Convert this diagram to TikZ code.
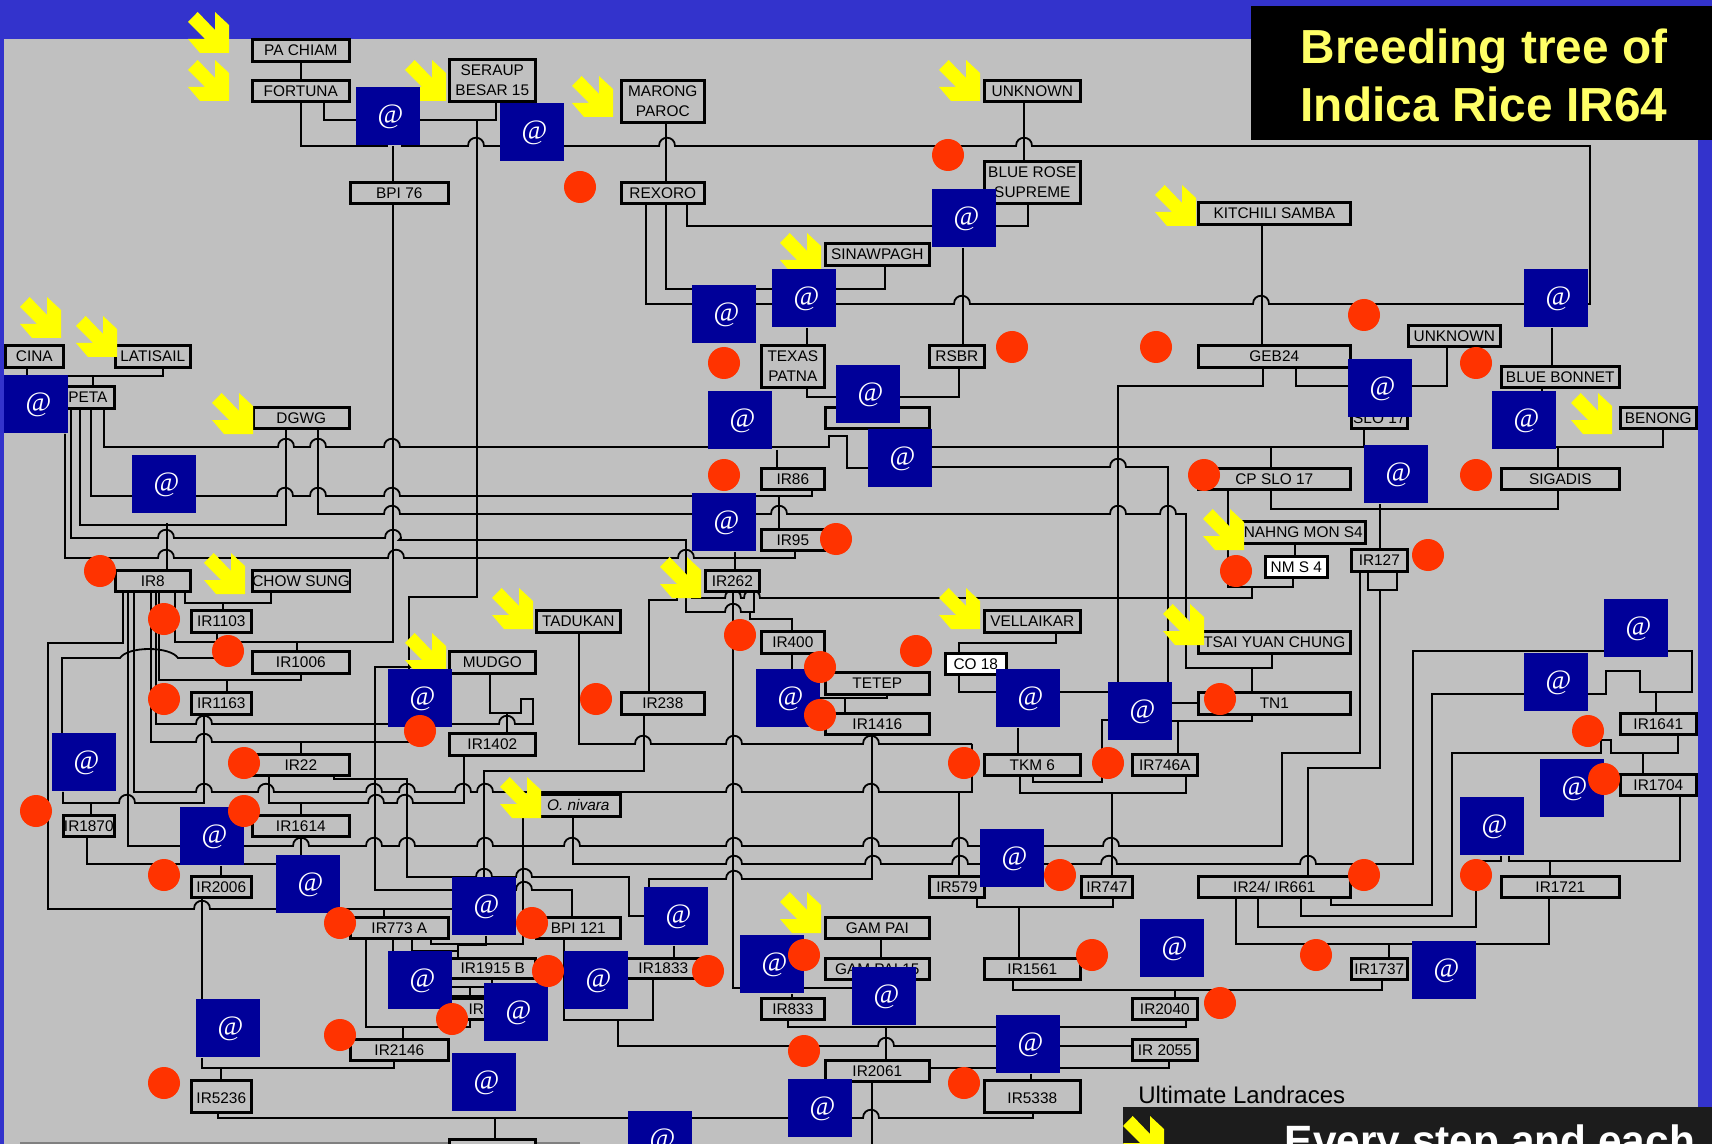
\documentclass[tikz,border=0pt]{standalone}
\usepackage{fontspec}
\usepackage{xcolor}
\setmainfont{Liberation Sans}
\newfontfamily\atfont{Liberation Serif}
\usetikzlibrary{backgrounds}
\definecolor{Slide}{HTML}{3333CC}
\definecolor{Panel}{HTML}{C0C0C0}
\definecolor{Navy}{HTML}{000099}
\definecolor{Signal}{HTML}{FF3300}
\definecolor{Sun}{HTML}{FFFF00}
\definecolor{TitleSun}{HTML}{FFFF66}
\definecolor{Footbar}{HTML}{1C1C1C}
\tikzset{cultivar/.style={rectangle,draw=black,line width=1.3pt,fill=Panel,anchor=north west,align=center,inner sep=0pt,text=black,font=\fontsize{7.7}{10}\selectfont},crossbox/.style={rectangle,fill=Navy,anchor=north west,minimum width=32pt,minimum height=29pt,inner sep=0pt,text=white,font=\atfont\fontsize{14}{14}\selectfont},reddot/.style={circle,fill=Signal,minimum size=16pt,inner sep=0pt},link/.style={draw=black,line width=0.9pt,line join=miter},landrace/.pic={\fill[Sun] (0,10)--(9.7,0)--(27,18)--(27,0)--(41,13)--(41,41)--(12,41)--(0,27)--(17,27)--cycle;}}
\newcommand{\hop}[2]{-- (#1-8,#2) .. controls (#1-8,#2-11) and (#1+8,#2-11) .. (#1+8,#2)}
\newcommand{\atmark}{\kern2pt\raisebox{-1pt}{@}}
\begin{document}
\begin{tikzpicture}[x=0.5pt,y=-0.5pt]
\useasboundingbox (0,0) rectangle (1712,1144);
\clip (0,0) rectangle (1712,1144);
\foreach \nm/\l/\t/\w/\h/\txt in {pachiam/251/39/99/22/PA CHIAM,fortuna/251/80/99/21/FORTUNA,seraup/448/59/88/42/SERAUP\\BESAR 15,marong/620/80/85/42/MARONG\\PAROC,bpi76/349/182/100/21/BPI 76,rexoro/620/182/85/21/REXORO,sinawpagh/824/243/106/22/SINAWPAGH,cina/4/345/60/22/CINA,latisail/114/345/77/22/LATISAIL,peta/60/386/55/22/PETA,dgwg/252/407/98/21/DGWG,texas/760/345/65/42/TEXAS\\PATNA,ir86/760/468/65/21/IR86,ir95/760/529/65/21/IR95,blankbox/824/407/106/21/{},ir8/114/570/77/21/IR8,chowsung/251/570/99/21/CHOW SUNG,ir262/704/570/56/21/IR262,unknowna/983/80/98/21/UNKNOWN,bluerose/983/161/98/42/BLUE ROSE\\SUPREME,kitchili/1197/202/154/22/KITCHILI SAMBA,rsbr/928/345/57/22/RSBR,geb24/1197/345/154/22/GEB24,unknownb/1407/325/94/21/UNKNOWN,bluebonnet/1500/366/120/21/BLUE BONNET,benong/1619/407/78/21/BENONG,slo17/1350/407/58/21/SLO 17,cpslo17/1197/468/154/21/CP SLO 17,sigadis/1500/468/120/21/SIGADIS,nahng/1240/521/126/22/NAHNG MON S4,ir127/1350/549/58/22/IR127,ir1103/190/610/62/22/IR1103,ir1006/251/651/99/22/IR1006,mudgo/448/651/88/22/MUDGO,tadukan/535/610/86/22/TADUKAN,ir400/760/631/65/22/IR400,ir1163/190/692/62/22/IR1163,ir238/620/692/85/22/IR238,ir1402/448/733/88/22/IR1402,ir22/251/754/99/21/IR22,onivara/535/794/86/22/\textit{O. nivara},ir1870/62/815/53/21/IR1870,ir1614/251/815/99/21/IR1614,ir2006/190/876/62/21/IR2006,ir773/349/917/100/21/IR773 A,bpi121/535/917/86/21/BPI 121,ir1915/449/958/87/20/IR1915 B,ir1833/622/958/82/20/IR1833,irhidden/449/998/54/21/IR,ir833/760/998/65/21/IR833,ir2146/349/1039/100/21/IR2146,ir5236/190/1080/62/32/\raisebox{-3.5pt}[0pt][0pt]{IR5236},gampai/824/917/106/21/GAM PAI,gampai15/824/958/106/21/GAM PAI 15,ir2061/824/1060/106/21/IR2061,tetep/824/672/106/22/TETEP,ir1416/824/713/106/21/IR1416,vellaikar/983/610/98/22/VELLAIKAR,tsai/1197/631/154/22/TSAI YUAN CHUNG,tn1/1197/692/154/22/TN1,tkm6/983/754/98/21/TKM 6,ir746a/1131/754/67/21/IR746A,ir1641/1619/713/78/21/IR1641,ir1704/1619/774/78/21/IR1704,ir579/928/876/57/21/IR579,ir747/1080/876/53/21/IR747,ir24/1197/876/154/21/{IR24/ IR661},ir1721/1500/876/120/21/IR1721,ir1561/983/958/98/21/IR1561,ir1737/1350/958/58/21/IR1737,ir2040/1131/998/67/21/IR2040,ir2055/1131/1039/67/21/IR 2055,ir5338/983/1080/98/32/\raisebox{-3.5pt}[0pt][0pt]{IR5338},bottombox/448/1139/88/21/{}}
  \node[cultivar,minimum width=(\w-2)*0.5pt,minimum height=\h*0.5pt] (\nm) at (\l,\t-1) {\txt};
\node[cultivar,fill=white,minimum width=31pt,minimum height=10.5pt] (nms4) at (1264,555) {NM S 4};
\node[cultivar,fill=white,minimum width=30.5pt,minimum height=10.5pt] (co18) at (944,652) {CO 18};
\foreach \x/\y in {188/12,188/60,405/60,572/76,780/233,20/297,76/316,212/393,204/553,660/557,939/60,1155/185,1571/393,1203/509,492/588,405/633,500/777,780/892,939/588,1163/604}
  \pic at (\x,\y) {landrace};
\foreach \n/\x/\y in {1/356/87,2/500/103,3/692/285,4/772/269,5/4/375,6/132/455,7/708/391,8/692/493,9/836/365,10/868/429,11/932/189,12/1348/359,13/1524/269,14/1492/391,15/1364/445,16/388/669,17/756/669,18/52/733,19/180/807,20/276/855,21/452/877,22/644/887,23/388/951,24/564/951,25/484/983,26/740/935,27/196/999,28/452/1053,29/628/1111,30/788/1079,31/852/967,32/996/1015,33/996/669,34/1108/682,35/980/829,36/1140/919,37/1412/941,38/1460/797,39/1540/759,40/1524/653,41/1604/599}
  \node[crossbox] (at\n) at (\x,\y) {\atmark};
\foreach \n/\x/\y in {1/580/187,2/724/363,3/724/475,4/836/539,5/100/571,6/948/155,7/1012/347,8/1156/347,9/1364/315,10/1476/363,11/1476/475,12/1204/475,13/1236/571,14/1428/555,15/164/619,16/228/651,17/164/699,18/420/731,19/244/763,20/36/811,21/244/811,22/164/875,23/340/923,24/532/923,25/548/971,26/708/971,27/804/955,28/452/1019,29/340/1035,30/164/1083,31/804/1051,32/740/635,33/820/667,34/820/715,35/596/699,36/916/651,37/964/763,38/1108/763,39/1220/699,40/1588/731,41/1604/779,42/1060/875,43/1364/875,44/1476/875,45/1092/955,46/1316/955,47/1220/1003,48/964/1083}
  \node[reddot] (dot\n) at (\x,\y) {};
\node[fill=black,anchor=north west,inner sep=0pt,minimum width=230.5pt,minimum height=67pt] (titlebar) at (1251,6) {};
\node[text=TitleSun,align=center,inner sep=0pt,font=\bfseries\fontsize{23.9}{29}\selectfont] (title) at (1484,75) {Breeding tree of\\Indica Rice IR64};
\node[anchor=base west,inner sep=0pt,font=\fontsize{12}{14}\selectfont] (landraces) at (1138,1103) {Ultimate Landraces};
\node[fill=Footbar,anchor=north west,minimum width=294.5pt,minimum height=18.5pt,inner sep=0pt] (footbar) at (1123,1107) {};
\pic at (1123,1116) {landrace};
\node[anchor=base,inner sep=0pt,text=white,font=\bfseries\fontsize{21.2}{24}\selectfont] (footnote) at (1490,1155) {Every step and each};
\begin{scope}[on background layer]
\fill[Slide] (0,0) rectangle (1712,1144);
\fill[Panel] (4,39) rectangle (1698,1144);
\coordinate (gapfree) at (401,146);
\coordinate (pagefoot) at (872,1144);
\draw[draw=gray,line width=0.8pt] (20,1143)--(580,1143);
\draw[link] (pachiam)--(fortuna);
\draw[link] (301,0 |- fortuna.south) |- (at1 |- 0,146);
\draw[link] (gapfree) \hop{476}{146} -- (at2 |- 0,146) \hop{667}{146} \hop{1024}{146} -- (1590,146) |- (at13 |- 0,304);
\draw[link] (324,0 |- fortuna.south) |- (at1 |- 0,120);
\draw[link] (at1 |- 0,120) -| (496,0 |- seraup.south);
\draw[link] (477,120)--(477,597)--(409,597)--(409,0 |- at16.north);
\draw[link] (393,0 |- at1.south)--(393,0 |- bpi76.north);
\draw[link] (393,0 |- bpi76.south)--(393,642)--(175,642)--(175,0 |- ir8.south);
\draw[link] (666,0 |- marong.south)--(666,0 |- rexoro.north);
\draw[link] (1024,0 |- unknowna.south)--(1024,0 |- bluerose.north);
\draw[link] (646,0 |- rexoro.south) |- (at3 |- 0,304)--(at4 |- 0,304) \hop{962}{304} \hop{1261}{304} -- (at13 |- 0,304);
\draw[link] (666,0 |- rexoro.south) |- (at3 |- 0,289)--(at4 |- 0,289) -| (885,0 |- sinawpagh.south);
\draw[link] (687,0 |- rexoro.south) |- (at11 |- 0,226) -| (1028,0 |- bluerose.south);
\draw[link] (807,0 |- at4.south)--(807,0 |- texas.north);
\draw[link] (963,0 |- at11.south)--(963,0 |- rsbr.north);
\draw[link] (807,0 |- texas.south) |- (at9 |- 0,397) -| (959,0 |- rsbr.south);
\draw[link] (1262,0 |- kitchili.south)--(1262,0 |- geb24.north);
\draw[link] (1263,0 |- geb24.south) |- (1118,386)--(1118,0 |- at34.north);
\draw[link] (1296,0 |- geb24.south) |- (at12 |- 0,386) -| (1447,0 |- unknownb.south);
\draw[link] (1552,0 |- at13.south)--(1552,0 |- bluebonnet.north);
\draw[link] (1542,0 |- bluebonnet.south)--(1542,0 |- at14.north);
\draw[link] (at10 |- 0,447) -| (1364,0 |- slo17.south);
\draw[link] (1271,447)--(1271,0 |- cpslo17.north);
\draw[link] (at14 |- 0,447) -| (1663,0 |- benong.south);
\draw[link] (1558,447)--(1558,0 |- sigadis.north);
\draw[link] (1271,0 |- cpslo17.south) |- (1558,509)--(1558,0 |- sigadis.south);
\draw[link] (1228,0 |- cpslo17.south)--(1228,587) -| (1293,0 |- nms4.south);
\draw[link] (1295,0 |- nahng.south)--(1295,0 |- nms4.north);
\draw[link] (1380,0 |- at15.south)--(1380,0 |- ir127.north);
\draw[link] (1397,0 |- ir127.south) |- (1368,590)--(1368,0 |- ir127.south);
\draw[link] (1380,590) |- (1308,768)--(1308,0 |- ir24.north);
\draw[link] (128,0 |- ir8.south)--(128,846)--(at19 |- 0,846) \hop{301}{846} \hop{374}{846} \hop{407}{846} \hop{485}{846} \hop{572}{846} \hop{734}{846} \hop{871}{846} \hop{960}{846} -- (at35 |- 0,846) \hop{1111}{846} -- (1282,846)--(1282,753)--(1360,753)--(1360,0 |- ir127.south);
\draw[link] (134,0 |- ir8.south)--(134,792) \hop{204}{792} \hop{266}{792} \hop{374}{792} \hop{407}{792} \hop{463}{792} \hop{485}{792} \hop{734}{792} \hop{871}{792} -- (972,792)--(972,744);
\draw[link] (579,0 |- tadukan.south)--(579,744) \hop{643}{744} \hop{734}{744} \hop{871}{744} -- (972,744);
\draw[link] (959,792)--(959,0 |- ir579.north);
\draw[link] (151,0 |- ir8.south)--(151,742) \hop{204}{742} -- (409,742);
\draw[link] (301,742)--(301,0 |- ir22.north);
\draw[link] (159,0 |- ir8.south) |- (301,680)--(301,0 |- ir1006.south);
\draw[link] (227,680)--(227,0 |- ir1163.north);
\draw[link] (156,0 |- ir8.south)--(156,724) \hop{204}{724} -- (at16 |- 0,724) \hop{507}{724} -- (533,724)--(533,699)--(521,699)--(521,713)--(490,713)--(490,0 |- mudgo.south);
\draw[link] (507,713)--(507,0 |- ir1402.north);
\draw[link] (123,0 |- ir8.south)--(123,643)--(48,643)--(48,909) \hop{202}{909} -- (at21 |- 0,909);
\draw[link] (384,909)--(384,0 |- ir773.north);
\draw[link] (62,0 |- at18.north)--(62,658)--(120,658) .. controls (128,646) and (170,646) .. (178,658)--(214,658);
\draw[link] (217,0 |- ir1103.south)--(217,642);
\draw[link] (271,0 |- chowsung.south) |- (185,603)--(185,0 |- ir8.south);
\draw[link] (223,603)--(223,0 |- ir1103.north);
\draw[link] (297,642)--(297,0 |- ir1006.north);
\draw[link] (63,0 |- at18.south)--(63,803) \hop{127}{803} -- (204,803)--(204,0 |- ir1163.south);
\draw[link] (91,803)--(91,0 |- ir1870.north);
\draw[link] (87,0 |- ir1870.south) |- (at20 |- 0,864);
\draw[link] (221,0 |- at19.south)--(221,0 |- ir2006.north);
\draw[link] (202,0 |- ir2006.south)--(202,0 |- at27.north);
\draw[link] (202,0 |- at27.south) |- (394,1068)--(394,0 |- ir2146.south);
\draw[link] (221,1068)--(221,0 |- ir5236.north);
\draw[link] (218,0 |- ir5236.south)--(218,1118)--(at30 |- 0,1118) \hop{871}{1118} -- (1033,1118)--(1033,0 |- ir5338.south);
\draw[link] (495,1118)--(495,0 |- bottombox.north);
\draw[link] (269,0 |- ir22.south)--(269,803) \hop{376}{803} \hop{405}{803} -- (464,803)--(464,0 |- ir1402.south);
\draw[link] (301,803)--(301,0 |- ir1614.north);
\draw[link] (301,0 |- ir1614.south)--(301,0 |- at20.north);
\draw[link] (334,0 |- ir22.south) |- (407,779)--(407,877) \hop{484}{877} \hop{524}{877} -- (629,877)--(629,916)--(at22 |- 0,916);
\draw[link] (at16 |- 0,667)--(375,667)--(375,890)--(at21 |- 0,890) \hop{524}{890} -- (572,890)--(572,0 |- bpi121.north);
\draw[link] (644,0 |- ir238.south) |- (484,771)--(484,0 |- at21.north);
\draw[link] (523,810)--(523,944)--(431,944)--(431,0 |- ir773.south);
\draw[link] (573,0 |- onivara.south)--(573,864) \hop{734}{864} \hop{873}{864} \hop{960}{864} -- (at35 |- 0,864) \hop{1109}{864} \hop{1308}{864} -- (1413,864)--(1413,651)--(at41 |- 0,651)--(1692,651)--(1692,692)--(1640,692)--(1640,671)--(1606,671)--(1606,694)--(at40 |- 0,694)--(1432,694)--(1432,905)--(1331,905)--(1331,0 |- ir24.south);
\draw[link] (1656,692)--(1656,0 |- ir1641.north);
\draw[link] (564,0 |- bpi121.south) |- (653,1020)--(653,0 |- ir1833.south);
\draw[link] (618,1020)--(618,1046) \hop{886}{1046} -- (at32 |- 0,1046)--(ir2055.west |- 0,1046);
\draw[link] (674,0 |- at22.south)--(674,0 |- ir1833.north);
\draw[link] (366,0 |- ir773.south) |- (470,1027)--(470,0 |- irhidden.south);
\draw[link] (393,0 |- ir773.south)--(393,0 |- at23.north);
\draw[link] (412,0 |- ir773.south) |- (458,951);
\draw[link] (486,0 |- at21.south) |- (458,945)--(458,0 |- ir1915.north);
\draw[link] (492,0 |- ir1915.south)--(492,0 |- at25.north);
\draw[link] (at23 |- 0,987)--(at25 |- 0,987);
\draw[link] (at23 |- 0,996)--(at25 |- 0,996);
\draw[link] (470,987)--(470,0 |- irhidden.north);
\draw[link] (403,1027)--(403,0 |- ir2146.north);
\draw[link] (733,0 |- ir262.south)--(733,988)--(at26 |- 0,988)--(at31 |- 0,988);
\draw[link] (792,0 |- at26.south)--(792,0 |- ir833.north);
\draw[link] (788,0 |- ir833.south) |- (at32 |- 0,1027) -| (1186,0 |- ir2040.south);
\draw[link] (886,0 |- at31.south)--(886,0 |- ir2061.north);
\draw[link] (ir2061.east |- 0,1068)--(at32 |- 0,1068) -| (1169,0 |- ir2055.south);
\draw[link] (1031,0 |- at32.south)--(1031,0 |- ir5338.north);
\draw[link] (872,0 |- ir2061.south)--(pagefoot);
\draw[link] (881,0 |- gampai.south)--(881,0 |- gampai15.north);
\draw[link] (1019,907)--(1019,0 |- ir1561.north);
\draw[link] (977,0 |- ir579.south) |- (1113,907)--(1113,0 |- ir747.south);
\draw[link] (1112,793)--(1112,0 |- ir747.north);
\draw[link] (1020,0 |- tkm6.south) |- (1186,793)--(1186,0 |- ir746a.south);
\draw[link] (1033,0 |- tkm6.south) |- (1102,782) |- (at34 |- 0,720);
\draw[link] (1018,0 |- at33.south)--(1018,0 |- tkm6.north);
\draw[link] (at33 |- 0,692)--(at34 |- 0,692);
\draw[link] (at33 |- 0,692) -| (959,0 |- co18.south);
\draw[link] (959,0 |- co18.north) |- (1056,643)--(1056,0 |- vellaikar.south);
\draw[link] (at10 |- 0,467) \hop{1118}{467} -- (1168,467)--(1168,0 |- at34.north);
\draw[link] (318,0 |- dgwg.south)--(318,514) \hop{392}{514} -- (at8 |- 0,514) \hop{779}{514} \hop{1118}{514} \hop{1168}{514} -- (1186,514)--(1186,668)--(1272,668)--(1272,0 |- tsai.south);
\draw[link] (1252,668)--(1252,0 |- tn1.north);
\draw[link] (at34 |- 0,703)--(tn1.west |- 0,703);
\draw[link] (1252,0 |- tn1.south) |- (at34 |- 0,721);
\draw[link] (1178,721)--(1178,0 |- ir746a.north);
\draw[link] (692,0 |- ir262.south)--(692,598) \hop{733}{598} \hop{752}{598} -- (1252,598)--(1252,587);
\draw[link] (71,0 |- peta.south)--(71,538) \hop{166}{538} \hop{393}{538} -- (399,540)--(686,540)--(686,612) \hop{733}{612} -- (754,612)--(754,0 |- ir262.south);
\draw[link] (750,612) |- (792,619)--(792,0 |- ir400.north);
\draw[link] (792,0 |- ir400.south)--(792,0 |- at17.north);
\draw[link] (649,0 |- ir238.north) |- (677,600)--(677,590);
\draw[link] (65,0 |- at5.south)--(65,558) \hop{166}{558} \hop{396}{558} \hop{686}{558} -- (795,558)--(795,0 |- ir95.south);
\draw[link] (at5 |- 0,376) -| (163,0 |- latisail.south);
\draw[link] (27,0 |- cina.south)--(27,0 |- at5.north);
\draw[link] (93,376)--(93,0 |- peta.north);
\draw[link] (104,0 |- peta.south)--(104,447) \hop{286}{447} \hop{318}{447} \hop{392}{447} -- (829,447)--(829,436)--(847,436)--(847,468)--(at10 |- 0,468);
\draw[link] (91,0 |- peta.south)--(91,496)--(at6 |- 0,496) \hop{285}{496} \hop{318}{496} \hop{392}{496} -- (812,496)--(812,0 |- ir86.south);
\draw[link] (80,0 |- peta.south) |- (286,525)--(286,0 |- dgwg.south);
\draw[link] (167,523)--(167,0 |- ir8.north);
\draw[link] (777,0 |- at7.south)--(777,0 |- ir86.north);
\draw[link] (779,496)--(779,0 |- ir95.north);
\draw[link] (735,0 |- at8.south)--(735,0 |- ir262.north);
\draw[link] (649,0 |- at22.north)--(649,879) \hop{734}{879} -- (872,879)--(872,0 |- ir1416.south);
\draw[link] (887,0 |- tetep.south) |- (at17 |- 0,698);
\draw[link] (845,699)--(845,0 |- ir1416.north);
\draw[link] (1550,861)--(1550,0 |- ir1721.north);
\draw[link] (1509,0 |- at38.south) |- (1680,861)--(1680,0 |- ir1704.south);
\draw[link] (1258,0 |- ir24.south) |- (1476,927)--(1476,861)--(1501,861)--(1501,0 |- at38.south);
\draw[link] (1236,0 |- ir24.south) |- (1549,944)--(1549,0 |- ir1721.south);
\draw[link] (1389,944)--(1389,0 |- ir1737.north);
\draw[link] (1301,0 |- ir24.south) |- (1452,916)--(1452,753)--(1601,753)--(1601,740)--(1611,740)--(1611,753)--(1678,753)--(1678,0 |- ir1641.south);
\draw[link] (1643,753)--(1643,0 |- ir1704.north);
\draw[link] (1013,0 |- ir1561.south) |- (1382,990)--(1382,0 |- ir1737.south);
\draw[link] (1175,990)--(1175,0 |- ir2040.north);
\end{scope}
\end{tikzpicture}
\end{document}
